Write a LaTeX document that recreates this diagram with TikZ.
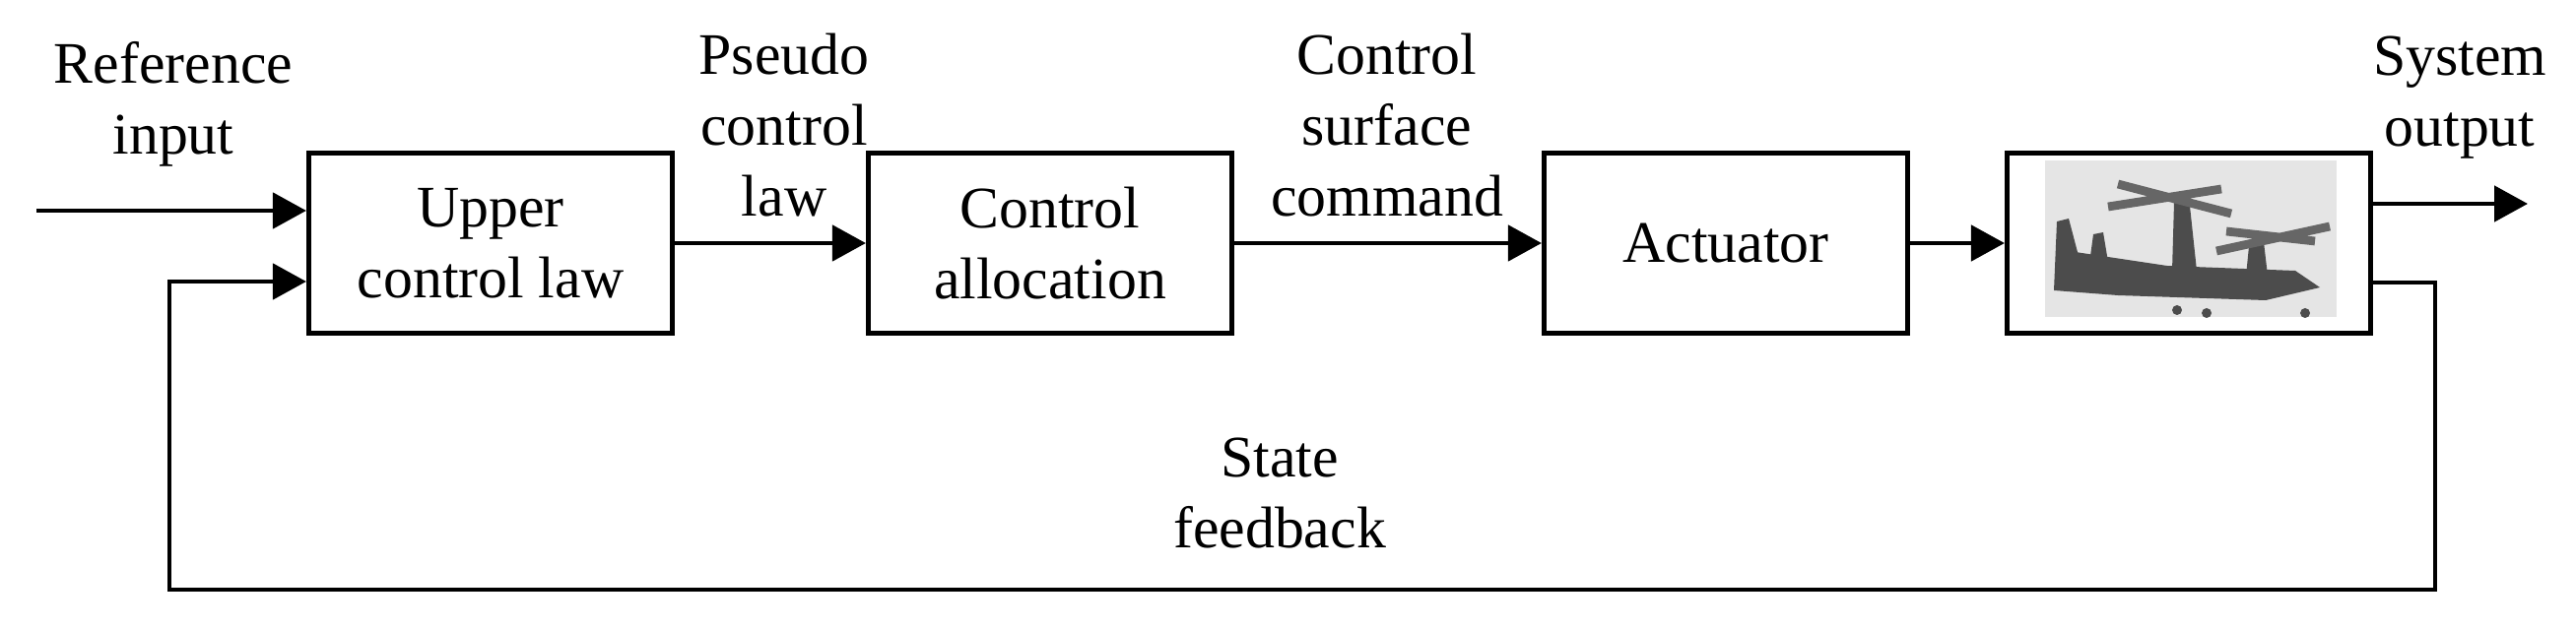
\documentclass[tikz,border=0pt]{standalone}
\usepackage{fontspec}
\setmainfont{Liberation Serif}
\usetikzlibrary{arrows.meta,positioning}

\begin{document}
\begin{tikzpicture}[x=0.01cm,y=-0.01cm,line width=1.4pt,
   block/.style={draw,minimum width=3.69cm,minimum height=1.82cm,align=center,inner sep=0pt},
   lbl/.style={align=center,font=\fontsize{17}{20.5}\selectfont},
   sig/.style={-{Triangle[length=0.34cm,width=0.36cm]}}]
   \useasboundingbox (0,0) rectangle (2615,640);

   \node[block,lbl] (upper) at (498,247) {Upper\\control law};
   \node[block,lbl] (alloc) at (1066,247) {Control\\allocation};
   \node[block,lbl] (act)   at (1752,247) {Actuator};
   \node[block]     (plant) at (2222,247) {};

   % aircraft picture
   \fill[gray!20] (2076,163) rectangle (2372,322);
   \begin{scope}[fill=black!70,line width=0pt]
     \fill (2085,295) -- (2100,255) -- (2200,270) -- (2330,275) -- (2355,292) -- (2300,305) -- (2150,300) -- cycle;
     \fill (2085,295) -- (2088,225) -- (2100,222) -- (2110,260) -- cycle;
     \fill (2120,275) -- (2125,238) -- (2135,236) -- (2142,278) -- cycle;
     \fill (2205,275) -- (2207,205) -- (2222,200) -- (2230,275) -- cycle;
     \fill (2280,280) -- (2283,250) -- (2298,246) -- (2302,280) -- cycle;
     \fill (2210,315) circle (5) (2240,318) circle (5) (2340,318) circle (5);
   \end{scope}
   \draw[black!60,line width=2.5pt] (2150,187) -- (2265,217) (2140,210) -- (2255,192);
   \draw[black!60,line width=2.5pt] (2250,255) -- (2365,230) (2260,235) -- (2350,245);

   \coordinate (in) at (37,214);
   \coordinate (out) at (2566,207);
   \coordinate (fbr) at (2472,287);
   \coordinate (fbrb) at (2472,599);
   \coordinate (fblb) at (172,599);
   \coordinate (fbl) at (172,286);

   \draw[sig] (in) -- (in -| upper.west);
   \draw[sig] (upper) -- (alloc);
   \draw[sig] (alloc) -- (act);
   \draw[sig] (act) -- (plant);
   \draw[sig] (out -| plant.east) -- (out);
   \draw[sig] (fbr -| plant.east) -- (fbr) -- (fbrb) -- (fblb) -- (fbl) -- (fbl -| upper.west);

   \node[lbl] (ref)   at (176,106) {Reference\\input};
   \node[lbl] (pseudo) at (796,127) {Pseudo\\control\\law};
   \node[lbl] (cmd)   at (1408,127) {Control\\surface\\command};
   \node[lbl] (sysout) at (2497,99) {System\\output};
   \node[lbl] (state) at (1299,501) {State\\feedback};
\end{tikzpicture}
\end{document}
